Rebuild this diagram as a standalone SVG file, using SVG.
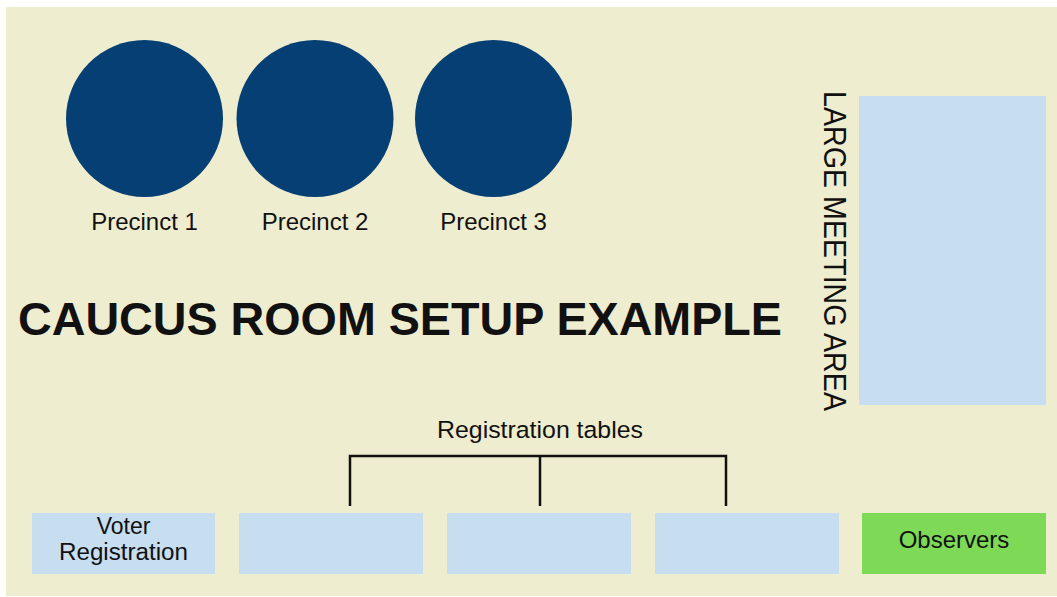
<svg xmlns="http://www.w3.org/2000/svg" width="1057" height="597" viewBox="0 0 1057 597">
<style>
.lbl{font-family:"Liberation Sans",Arial,sans-serif;font-size:24px;fill:#111;text-anchor:middle}
.precinct{fill:#053F73}
.table{fill:#C7DDF0}
.obs{fill:#7ED957}
.conn{stroke:#111;stroke-width:2.5;fill:none}
</style>
<rect x="0" y="0" width="1057" height="597" fill="#ffffff"/>
<rect id="room" x="6" y="7" width="1051" height="589" fill="#EFEDCF"/>
<g id="precinct1"><circle class="precinct" cx="144.5" cy="118.5" r="78.5"/><text class="lbl" x="144.5" y="230">Precinct 1</text></g>
<g id="precinct2"><circle class="precinct" cx="315" cy="118.5" r="78.5"/><text class="lbl" x="315" y="230">Precinct 2</text></g>
<g id="precinct3"><circle class="precinct" cx="493.5" cy="118.5" r="78.5"/><text class="lbl" x="493.5" y="230">Precinct 3</text></g>
<text id="title" x="400" y="335" font-family="'Liberation Sans',Arial,sans-serif" font-weight="bold" font-size="46" fill="#111" text-anchor="middle" textLength="764" lengthAdjust="spacingAndGlyphs">CAUCUS ROOM SETUP EXAMPLE</text>
<g id="meeting-area">
<rect class="table" x="859" y="96" width="187" height="309"/>
<text class="lbl" transform="translate(824,251) rotate(90)" style="font-size:31px" textLength="320" lengthAdjust="spacingAndGlyphs">LARGE MEETING AREA</text>
</g>
<text id="reg-label" class="lbl" x="540" y="438" style="font-size:24.5px" textLength="206" lengthAdjust="spacingAndGlyphs">Registration tables</text>
<g id="connectors">
<path class="conn" d="M350 506 V456 H726 V506 M540 456 V506"/>
</g>
<g id="voter-registration"><rect class="table" x="32" y="513" width="183" height="61"/><text class="lbl" x="123.5" y="534" style="font-size:23px">Voter</text><text class="lbl" x="123.5" y="560" style="font-size:23px" textLength="129" lengthAdjust="spacingAndGlyphs">Registration</text></g>
<g id="table1"><rect class="table" x="239" y="513" width="184" height="61"/></g>
<g id="table2"><rect class="table" x="447" y="513" width="184" height="61"/></g>
<g id="table3"><rect class="table" x="655" y="513" width="184" height="61"/></g>
<g id="observers"><rect class="obs" x="862" y="513" width="184" height="61"/><text class="lbl" x="954" y="548">Observers</text></g>
</svg>
